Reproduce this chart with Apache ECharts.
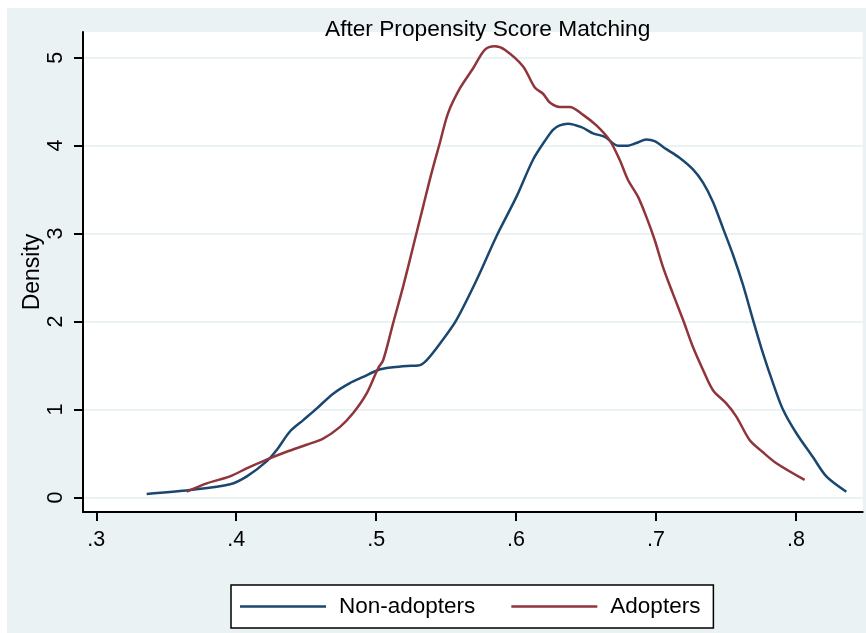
<!DOCTYPE html>
<html>
<head>
<meta charset="utf-8">
<script src="https://cdn.jsdelivr.net/npm/echarts@6/dist/echarts.min.js"></script>
<style>
html,body{margin:0;padding:0;background:#fff;}
#bg{position:absolute;left:7px;top:8px;width:859px;height:625px;background:#EAF2F3;}
#chart{position:absolute;left:0;top:0;width:866px;height:633px;}
</style>
</head>
<body>
<div id="bg"></div>
<div id="chart"></div>
<script>
const titleText = 'After Propensity Score Matching';
const yAxisName = 'Density';
const seriesNames = ['Non-adopters', 'Adopters'];
const xTicks = [0.3, 0.4, 0.5, 0.6, 0.7, 0.8];
const yTicks = [0, 1, 2, 3, 4, 5];

const nonAdoptersX = [0.336,0.367,0.3956,0.4076,0.4217,0.4289,0.4384,0.4479,0.4574,0.4693,0.4812,0.4907,0.5014,0.512,0.522,0.530,0.536,0.547,0.5574,0.5717,0.586,0.6003,0.6121,0.6217,0.6264,0.6312,0.6371,0.6467,0.655,0.6634,0.6729,0.68,0.686,0.6931,0.699,0.7074,0.717,0.7264,0.7336,0.7407,0.7479,0.755,0.7621,0.7693,0.7764,0.7836,0.7907,0.8003,0.8121,0.8217,0.836];
const nonAdoptersY = [0.04,0.085,0.15,0.24,0.41,0.54,0.75,0.88,1.01,1.18,1.30,1.37,1.45,1.48,1.495,1.50,1.56,1.78,2.02,2.47,2.97,3.42,3.84,4.08,4.18,4.23,4.25,4.21,4.14,4.10,4.00,4.00,4.03,4.07,4.05,3.96,3.86,3.73,3.58,3.36,3.06,2.76,2.42,2.02,1.64,1.30,1.00,0.73,0.46,0.24,0.066];

const adoptersX = [0.3646,0.3789,0.3955,0.4074,0.4217,0.436,0.4503,0.4621,0.474,0.4836,0.4931,0.5014,0.505,0.5121,0.5193,0.5264,0.5336,0.5396,0.5455,0.5514,0.5598,0.5693,0.5776,0.5848,0.5919,0.605,0.6134,0.6193,0.6241,0.6312,0.6383,0.6479,0.6574,0.6669,0.674,0.68,0.6871,0.6931,0.699,0.705,0.712,0.7193,0.7264,0.7336,0.7407,0.7502,0.7574,0.767,0.776,0.786,0.8062];
const adoptersY = [0.066,0.16,0.24,0.33,0.43,0.52,0.60,0.67,0.80,0.96,1.18,1.47,1.56,1.98,2.40,2.85,3.31,3.69,4.03,4.37,4.65,4.88,5.09,5.13,5.09,4.90,4.66,4.59,4.49,4.44,4.44,4.35,4.23,4.06,3.84,3.61,3.42,3.19,2.93,2.62,2.32,2.02,1.71,1.45,1.22,1.07,0.92,0.65,0.52,0.39,0.20];

const font = "'Liberation Sans', Arial, sans-serif";
const pairs = (xs, ys) => xs.map((x, i) => [x, ys[i]]);

const chart = echarts.init(document.getElementById('chart'), null, {renderer: 'canvas'});
chart.setOption({
  animation: false,
  backgroundColor: 'transparent',
  title: {
    text: titleText,
    left: 320,
    top: 13,
    textStyle: {fontFamily: font, fontSize: 22.7, fontWeight: 'normal', color: '#000'}
  },
  grid: {
    left: 83, right: 3.3, top: 32, bottom: 121,
    show: true, backgroundColor: '#fff', borderWidth: 0,
    containLabel: false
  },
  xAxis: {
    type: 'value',
    min: 0.2905, max: 0.8477,
    axisLine: {show: true, onZero: false, lineStyle: {color: '#000', width: 2}},
    axisTick: {show: true, length: 9, customValues: xTicks, lineStyle: {color: '#000', width: 2}},
    axisLabel: {
      customValues: xTicks, margin: 17,
      formatter: v => String(v).replace(/^0/, ''),
      fontFamily: font, fontSize: 21.5, color: '#000'
    },
    splitLine: {show: false}
  },
  yAxis: {
    type: 'value',
    min: -0.165, max: 5.292,
    name: yAxisName, nameLocation: 'middle', nameRotate: 90, nameGap: 39,
    nameMoveOverlap: false,
    nameTextStyle: {fontFamily: font, fontSize: 23, color: '#000'},
    axisLine: {show: true, onZero: false, lineStyle: {color: '#000', width: 2}},
    axisTick: {show: true, length: 9, customValues: yTicks, lineStyle: {color: '#000', width: 2}},
    axisLabel: {
      customValues: yTicks, rotate: 90, margin: 16,
      fontFamily: font, fontSize: 21.5, color: '#000'
    },
    splitLine: {show: true, lineStyle: {color: '#EAF2F3', width: 2}}
  },
  legend: {
    data: seriesNames,
    left: 231, top: 585,
    icon: 'rect', itemWidth: 86, itemHeight: 2.5, itemGap: 36,
    padding: [8.5, 13, 8.5, 9],
    borderColor: '#000', borderWidth: 1.5, backgroundColor: '#fff',
    textStyle: {fontFamily: font, fontSize: 22.5, color: '#000', lineHeight: 26, padding: [0, 0, 0, 8]}
  },
  series: [
    {
      name: seriesNames[0], type: 'line', data: pairs(nonAdoptersX, nonAdoptersY),
      symbol: 'none', smooth: 0.3, color: '#1A476F',
      lineStyle: {color: '#1A476F', width: 2.5}
    },
    {
      name: seriesNames[1], type: 'line', data: pairs(adoptersX, adoptersY),
      symbol: 'none', smooth: 0.3, color: '#90353B',
      lineStyle: {color: '#90353B', width: 2.5}
    }
  ]
});
</script>
</body>
</html>
